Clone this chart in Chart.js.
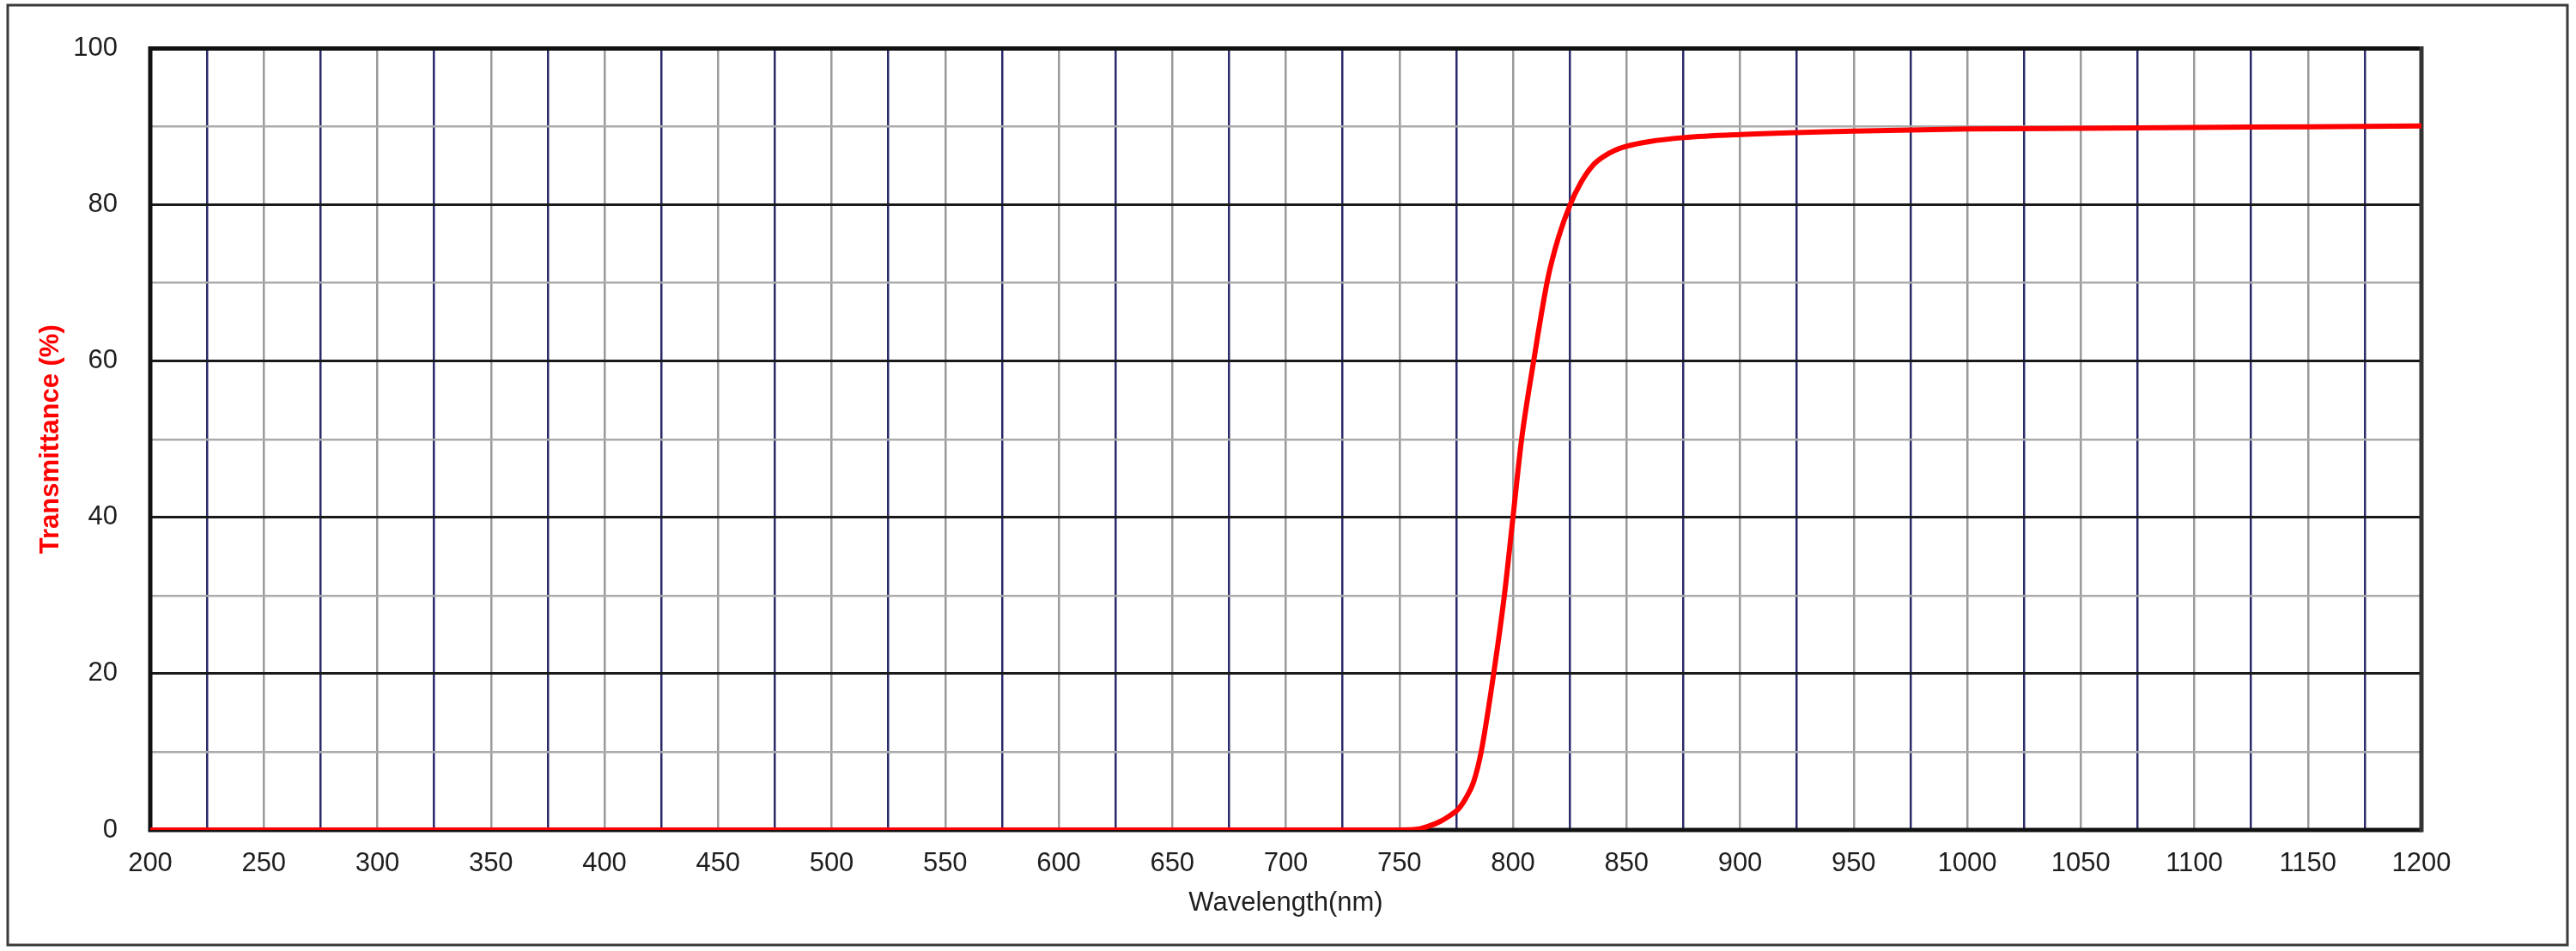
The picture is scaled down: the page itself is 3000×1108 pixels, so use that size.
<!DOCTYPE html>
<html>
<head>
<meta charset="utf-8">
<script src="https://cdn.jsdelivr.net/npm/chart.js@4.4.0/dist/chart.umd.min.js"></script>
<style>
html, body { margin: 0; padding: 0; background: #fff; }
</style>
</head>
<body>
<canvas id="myChart" width="3000" height="1108"></canvas>
<script>
// dane
const wavelength = [200, 300, 400, 500, 600, 700, 750, 758, 763, 768, 772, 776, 779.5, 782.6, 786, 791.5, 796.2, 800, 803.8, 809.1, 815.3, 820, 825, 830, 835, 840, 845, 850, 860, 875, 900, 950, 1000, 1050, 1100, 1150, 1200];
const transmittance = [0, 0, 0, 0, 0, 0, 0, 0.1, 0.5, 1.1, 1.8, 2.7, 4.2, 6.1, 10, 20, 30, 40, 50, 60, 70.5, 75.8, 79.9, 82.9, 85.0, 86.2, 87.0, 87.5, 88.1, 88.6, 89.0, 89.45, 89.7, 89.8, 89.9, 90.0, 90.1];

// siatka i opisy osi
const xGridTicks = [200, 225, 250, 275, 300, 325, 350, 375, 400, 425, 450, 475, 500, 525, 550, 575, 600, 625, 650, 675, 700, 725, 750, 775, 800, 825, 850, 875, 900, 925, 950, 975, 1000, 1025, 1050, 1075, 1100, 1125, 1150, 1175, 1200];
const xTickLabels = [200, 250, 300, 350, 400, 450, 500, 550, 600, 650, 700, 750, 800, 850, 900, 950, 1000, 1050, 1100, 1150, 1200];
const yGridTicks = [0, 10, 20, 30, 40, 50, 60, 70, 80, 90, 100];
const yTickLabels = [0, 20, 40, 60, 80, 100];

const FONT = "'Liberation Sans', Arial, sans-serif";

// tlo, ramka zewnetrzna i obramowanie pola wykresu
const framePlugin = {
    id: 'frame',
    beforeDraw(chart) {
        const ctx = chart.ctx;
        ctx.save();
        ctx.fillStyle = '#ffffff';
        ctx.fillRect(0, 0, chart.width, chart.height);
        ctx.strokeStyle = '#3a3a3a';
        ctx.lineWidth = 3;
        ctx.strokeRect(9, 6, 2981, 1095);
        ctx.restore();
    },
    beforeDatasetsDraw(chart) {
        const a = chart.chartArea;
        const ctx = chart.ctx;
        ctx.save();
        ctx.lineWidth = 5;
        ctx.strokeStyle = '#111111';
        ctx.beginPath();
        ctx.moveTo(a.right, a.bottom);
        ctx.lineTo(a.left, a.bottom);
        ctx.lineTo(a.left, a.top);
        ctx.lineTo(a.right, a.top);
        ctx.stroke();
        ctx.strokeStyle = '#333333';
        ctx.beginPath();
        ctx.moveTo(a.right, a.top - 2.5);
        ctx.lineTo(a.right, a.bottom + 2.5);
        ctx.stroke();
        ctx.restore();
    }
};

const data = {
    datasets: [{
        label: 'Transmittance',
        data: wavelength.map((w, i) => ({ x: w, y: transmittance[i] })),
        borderColor: '#ff0000',
        borderWidth: 6,
        pointRadius: 0,
        cubicInterpolationMode: 'monotone',
        fill: false
    }]
};

const config = {
    type: 'line',
    data: data,
    options: {
        responsive: false,
        animation: false,
        devicePixelRatio: 1,
        layout: {
            padding: { left: 0, right: 180, top: 40, bottom: 0 }
        },
        plugins: {
            legend: { display: false },
            tooltip: { enabled: false }
        },
        scales: {
            x: {
                type: 'linear',
                min: 200,
                max: 1200,
                afterFit(scale) { scale.height = 141; },
                afterBuildTicks(scale) { scale.ticks = xGridTicks.map(v => ({ value: v })); },
                border: { display: false },
                grid: {
                    drawTicks: false,
                    color: ctx => (ctx.tick && ctx.tick.value % 50 === 0) ? '#9a9a9a' : '#2b2b6b',
                    lineWidth: 2.5
                },
                ticks: {
                    autoSkip: false,
                    maxRotation: 0,
                    padding: 21,
                    color: '#1e1e1e',
                    font: { family: FONT, size: 31 },
                    callback: v => xTickLabels.includes(v) ? String(v) : ''
                },
                title: {
                    display: true,
                    text: 'Wavelength(nm)',
                    color: '#1e1e1e',
                    font: { family: FONT, size: 31 },
                    padding: { top: 0, bottom: 37 }
                }
            },
            y: {
                min: 0,
                max: 100,
                afterFit(scale) { scale.width = 175; },
                afterBuildTicks(scale) { scale.ticks = yGridTicks.map(v => ({ value: v })); },
                border: { display: false },
                grid: {
                    drawTicks: false,
                    color: ctx => (ctx.tick && ctx.tick.value % 20 === 0) ? '#1a1a1a' : '#ababab',
                    lineWidth: ctx => (ctx.tick && ctx.tick.value % 20 === 0) ? 3 : 2.5
                },
                ticks: {
                    autoSkip: false,
                    padding: 38,
                    color: '#1e1e1e',
                    font: { family: FONT, size: 31 },
                    callback: v => yTickLabels.includes(v) ? String(v) : ''
                },
                title: {
                    display: true,
                    text: 'Transmittance (%)',
                    color: '#ff0000',
                    font: { family: FONT, size: 31, weight: 'bold' },
                    padding: { top: 41, bottom: 0 }
                }
            }
        }
    },
    plugins: [framePlugin]
};

const myChart = new Chart(document.getElementById('myChart'), config);
</script>
</body>
</html>
